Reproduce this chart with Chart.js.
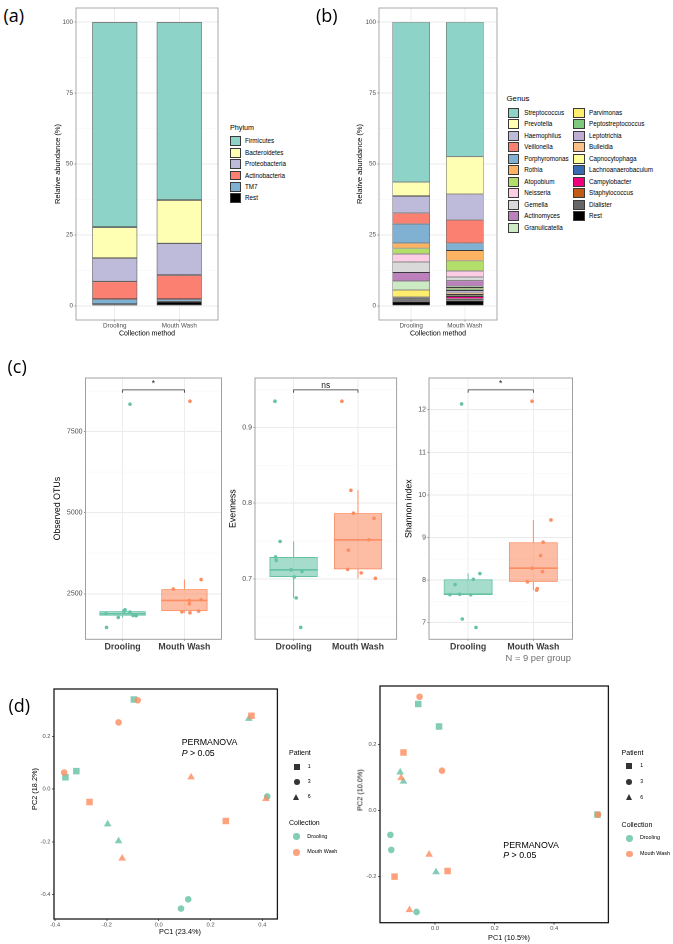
<!DOCTYPE html>
<html><head><meta charset="utf-8"><title>Oral microbiome by collection method</title>
<script src="https://cdn.jsdelivr.net/npm/chart.js@4.4.1/dist/chart.umd.min.js"></script>
<style>
html,body{margin:0;padding:0;background:#fff;}
body{position:relative;width:673px;height:944px;overflow:hidden;font-family:"Liberation Sans",Arial,Helvetica,sans-serif;}
.box{position:absolute;}
.txt{position:absolute;white-space:nowrap;line-height:1;}
.key{position:absolute;box-sizing:border-box;}
</style></head><body>
<script>
// ---------------- DATA ----------------
const collections = ['Drooling', 'Mouth Wash'];

// (a) phylum relative abundance (%)
const phyla = ['Firmicutes','Bacteroidetes','Proteobacteria','Actinobacteria','TM7','Rest'];
const phylumDrooling  = [72.3, 10.9, 8.2, 6.25, 1.8, 0.55];
const phylumMouthWash = [62.7, 15.3, 11.2, 8.45, 0.85, 1.5];

// (b) genus relative abundance (%)
const genera = ['Streptococcus','Prevotella','Haemophilus','Veillonella','Porphyromonas','Rothia','Atopobium','Neisseria','Gemella','Actinomyces','Granulicatella','Parvimonas','Peptostreptococcus','Leptotrichia','Bulleidia','Capnocytophaga','Lachnoanaerobaculum','Campylobacter','Staphylococcus','Dialister','Rest'];
const genusDrooling  = [56.4,4.9,6.0,3.8,6.8,1.8,2.0,2.8,3.75,3.05,3.1,2.55,0.25,0.2,0.1,0.1,0.2,0.1,0.2,0.4,1.5];
const genusMouthWash = [47.4,13.2,9.1,8.2,2.6,3.6,3.6,2.2,1.2,1.85,0.6,0.45,0.6,0.8,0.6,0.4,0.3,0.8,0.3,0.4,1.8];

// (c) alpha diversity, 9 samples per group (+ horizontal jitter)
const otuDrooling        = [1885,1771,1968,2008,1937,1833,1823,1464,8343];
const otuDroolingJitter  = [-0.27,-0.07,0.02,0.04,0.12,0.17,0.22,-0.26,0.12];
const otuMouthWash       = [2645,2940,2294,2192,2315,1946,1916,1968,8435];
const otuMouthWashJitter = [-0.18,0.27,0.08,0.08,0.27,-0.04,0.09,0.23,0.09];
const evenDrooling        = [0.7495,0.729,0.7245,0.712,0.710,0.7026,0.675,0.636,0.9346];
const evenDroolingJitter  = [-0.21,-0.28,-0.27,-0.04,0.13,0.01,0.04,0.11,-0.29];
const evenMouthWash       = [0.817,0.7868,0.780,0.7517,0.738,0.7126,0.708,0.7008,0.9346];
const evenMouthWashJitter = [-0.11,-0.07,0.25,0.17,-0.15,-0.16,0.05,0.27,-0.25];
const shanDrooling        = [8.155,8.02,7.897,7.66,7.67,7.656,7.087,6.89,12.136];
const shanDroolingJitter  = [0.18,0.08,-0.2,-0.28,-0.13,0.04,-0.09,0.12,-0.1];
const shanMouthWash       = [9.412,8.89,8.576,8.28,8.2,7.96,7.80,7.766,12.2];
const shanMouthWashJitter = [0.27,0.15,0.11,-0.02,0.14,-0.09,0.06,0.05,-0.02];
const signifLabels = ['*','ns','*'];

// (d) PCoA coordinates; sample i belongs to patient sampleSubjects[i]
const patients = ['1','3','6'];
const sampleSubjects = ['1','1','1','3','3','3','6','6','6'];
const pcoaLeftDroolingPC1   = [-0.096,-0.360,-0.318, 0.419,0.114,0.086, 0.348,-0.197,-0.155];
const pcoaLeftDroolingPC2   = [0.340,0.045,0.068, -0.028,-0.418,-0.453, 0.267,-0.133,-0.197];
const pcoaLeftMouthWashPC1  = [0.358,-0.267,0.259, -0.081,-0.155,-0.365, 0.125,0.414,-0.141];
const pcoaLeftMouthWashPC2  = [0.278,-0.049,-0.121, 0.337,0.253,0.063, 0.045,-0.037,-0.263];
const pcoaRightDroolingPC1  = [-0.0565,0.0133,0.545, -0.150,-0.147,-0.062, -0.117,-0.106,0.0033];
const pcoaRightDroolingPC2  = [0.323,0.255,-0.012, -0.0735,-0.119,-0.307, 0.116,0.0886,-0.186];
const pcoaRightMouthWashPC1 = [-0.106,0.042,-0.136, 0.0233,0.547,-0.052, -0.114,-0.020,-0.086];
const pcoaRightMouthWashPC2 = [0.176,-0.183,-0.200, 0.121,-0.012,0.345, 0.099,-0.133,-0.301];

// ---------------- STYLE ----------------
const phylumColors = ['#8DD3C7','#FFFFB3','#BEBADA','#FB8072','#80B1D3','#000000'];
const genusColors = ['#8DD3C7','#FFFFB3','#BEBADA','#FB8072','#80B1D3','#FDB462','#B3DE69','#FCCDE5','#D9D9D9','#BC80BD','#CCEBC5','#FFED6F','#7FC97F','#BEAED4','#FDC086','#FFFF99','#386CB0','#F0027F','#BF5B17','#666666','#000000'];
const groupColors = ['#66C2A5','#FC8D62'];
const groupFills = ['rgba(102,194,165,0.58)','rgba(252,141,98,0.58)'];
const groupPoint = ['rgba(102,194,165,0.82)','rgba(252,141,98,0.82)'];
const shapeStyles = ['rect','circle','triangle'];
const shapeRadius = [4.6,3.3,4.4];

Chart.defaults.font.family = '"Liberation Sans", Arial, Helvetica, sans-serif';
Chart.defaults.animation = false;

// ---------------- HELPERS ----------------
const frame = {
  id:'frame',
  afterDatasetsDraw(chart, args, o){
    const a = chart.chartArea, c = chart.ctx;
    c.save(); c.strokeStyle = o.color || '#999'; c.lineWidth = o.width || 1;
    c.strokeRect(a.left, a.top, a.right - a.left, a.bottom - a.top);
    c.restore();
  }
};
function makeBox(left, top, w, h){
  const d = document.createElement('div'); d.className = 'box';
  d.style.left = left+'px'; d.style.top = top+'px'; d.style.width = w+'px'; d.style.height = h+'px';
  const c = document.createElement('canvas'); d.appendChild(c); document.body.appendChild(d);
  return {canvas:c, left, top};
}
function txt(str, x, y, o = {}){
  const d = document.createElement('div'); d.className = 'txt'; d.innerHTML = str;
  d.style.fontSize = (o.size || 7)+'px'; d.style.color = o.color || '#000';
  if (o.weight) d.style.fontWeight = o.weight;
  if (o.family) d.style.fontFamily = o.family;
  d.style.left = x+'px'; d.style.top = y+'px';
  const ax = o.anchor === 'center' ? '-50%' : (o.anchor === 'right' ? '-100%' : '0');
  d.style.transform = 'translate('+ax+',-50%)' + (o.rotate ? ' rotate(-90deg)' : '');
  document.body.appendChild(d); return d;
}
function key(x, cy, w, h, css){
  const d = document.createElement('div'); d.className = 'key';
  d.style.left = x+'px'; d.style.top = (cy - h/2)+'px'; d.style.width = w+'px'; d.style.height = h+'px';
  d.style.cssText += css; document.body.appendChild(d); return d;
}
function stepTicks(min, max, step){
  const out = []; const s = Math.ceil(min/step - 1e-9);
  for (let k = s; k*step <= max + 1e-9; k++) out.push(+(k*step).toFixed(10));
  return out;
}
const isMult = (v, step) => Math.abs(v/step - Math.round(v/step)) < 1e-6;
function expand(arr, f = 0.05){ const mn = Math.min(...arr), mx = Math.max(...arr), r = mx - mn; return [mn - f*r, mx + f*r]; }
function quantile(s, p){ const h = (s.length-1)*p, lo = Math.floor(h), hi = Math.ceil(h); return s[lo] + (s[hi]-s[lo])*(h-lo); }
function boxStats(vals){
  const s = [...vals].sort((a,b)=>a-b);
  const q1 = quantile(s,.25), med = quantile(s,.5), q3 = quantile(s,.75), iqr = q3 - q1;
  const lo = s.find(v => v >= q1 - 1.5*iqr); const hi = [...s].reverse().find(v => v <= q3 + 1.5*iqr);
  return {q1, med, q3, lo, hi};
}
function bwY(o){
  return {
    type:'linear', position:'left', min:o.min, max:o.max, stacked:!!o.stacked,
    afterBuildTicks: s => { s.ticks = stepTicks(o.min, o.max, o.minor).map(v => ({value:v})); },
    afterFit: s => { s.width = o.width; },
    ticks:{autoSkip:false, font:{size:o.font}, color:'#4D4D4D', padding:o.tickPad,
      callback: v => isMult(v, o.major) ? o.fmt(v) : ''},
    grid:{color: c => (c.tick && isMult(c.tick.value, o.major)) ? '#EBEBEB' : '#F5F5F5',
      lineWidth: c => (c.tick && isMult(c.tick.value, o.major)) ? 0.9 : 0.5,
      tickColor: c => (c.tick && isMult(c.tick.value, o.major)) ? '#777' : 'rgba(0,0,0,0)',
      tickLength:1.5, tickWidth:0.8, drawTicks:true},
    border:{display:false},
    title:{display:true, text:o.title, font:{size:o.titleSize}, color:'#000', padding:{top:o.titlePad, bottom:0}}
  };
}
function catX(o){
  return {
    type:'linear', position:'bottom', min:0.4, max:collections.length + 0.6, offset:false, stacked:!!o.stacked,
    afterBuildTicks: s => { s.ticks = collections.map((_, i) => ({value:i+1})); },
    afterFit: s => { s.height = o.height; },
    ticks:{autoSkip:false, maxRotation:0, font:{size:o.font, weight:o.weight || 'normal'}, color:o.color || '#4D4D4D',
      padding:o.tickPad, callback: v => collections[Math.round(v)-1] || ''},
    grid:{color:'#EBEBEB', lineWidth:0.9, tickColor:'#777', tickLength:1.5, tickWidth:0.8, offset:false},
    border:{display:false},
    title: o.title ? {display:true, text:o.title, font:{size:o.titleSize}, color:'#000', padding:{top:0, bottom:o.titlePad}} : {display:false}
  };
}

// ---------------- (a) & (b) STACKED BARS ----------------
function stackedChart(box, names, dVals, mVals, colors, o){
  const datasets = [];
  for (let i = names.length - 1; i >= 0; i--) {
    datasets.push({label:names[i], data:[{x:1, y:dVals[i]}, {x:2, y:mVals[i]}],
      backgroundColor:colors[i], borderColor:'#3A3A3A', borderWidth:o.border, borderSkipped:false,
      barPercentage:0.7, categoryPercentage:1});
  }
  const tot = dVals.reduce((a,b)=>a+b,0);
  const [ymin, ymax] = expand([0, Math.max(tot, mVals.reduce((a,b)=>a+b,0))]);
  return new Chart(box.canvas, {
    type:'bar', data:{datasets},
    options:{responsive:true, maintainAspectRatio:false, animation:false, devicePixelRatio:2,
      layout:{padding:{top:8, right:o.padRight, left:0, bottom:0}},
      scales:{
        x: catX({height:22, font:6.3, tickPad:0.6, title:'Collection method', titleSize:7, titlePad:4.3, stacked:true}),
        y: bwY({min:ymin, max:ymax, major:25, minor:12.5, width:o.yWidth, font:6.3, tickPad:1.5,
          fmt:v => String(v), title:'Relative abundance (%)', titleSize:7.5, titlePad:o.titlePad, stacked:true})
      },
      plugins:{legend:{display:false}, tooltip:{enabled:false}, frame:{color:'#A8A8A8', width:1}}},
    plugins:[frame]
  });
}
stackedChart(makeBox(48, 0, 174, 342), phyla, phylumDrooling, phylumMouthWash, phylumColors, {padRight:4, yWidth:28, titlePad:5.2, border:0.7});
stackedChart(makeBox(350, 0, 152, 342), genera, genusDrooling, genusMouthWash, genusColors, {padRight:5, yWidth:29, titlePad:5.5, border:0.5});

// legends (a)
txt('Phylum', 230, 127.7, {size:7.2});
phyla.forEach((n, i) => {
  const cy = 141.3 + i*11.4;
  key(230, cy, 10.7, 9.8, 'background:'+phylumColors[i]+';border:0.8px solid #3A3A3A;');
  txt(n, 245, cy, {size:6.3});
});
// legends (b)
txt('Genus', 506.5, 99.3, {size:7.8});
genera.forEach((n, i) => {
  const col = i < 11 ? 0 : 1, row = i < 11 ? i : i - 11;
  const cy = 112.5 + row*11.5;
  const bx = col ? 573.3 : 507.5;
  key(bx, cy, 11.7, 10, 'background:'+genusColors[i]+';border:0.8px solid #3A3A3A;');
  txt(n, col ? 589 : 524.3, cy, {size:6.3});
});

// ---------------- (c) BOX PLOTS ----------------
function boxChart(box, groups, jitters, o){
  const all = groups.flat();
  const mn = Math.min(...all), mx = Math.max(...all);
  const yb = mx + 0.05*(mx - mn);
  const tip = 0.012*(yb - mn);
  const ymin = mn - 0.05*(yb - mn), ymax = yb + 0.05*(yb - mn);
  const hw = 0.375;
  const datasets = [];
  groups.forEach((vals, g) => {
    const x0 = g + 1, st = boxStats(vals);
    datasets.push({type:'scatter', data:vals.map((v, i) => ({x:x0 + jitters[g][i], y:v})),
      pointRadius:1.8, pointHoverRadius:1.8, backgroundColor:groupColors[g], borderWidth:0, order:0});
    datasets.push({type:'line', data:[{x:x0-hw, y:st.med}, {x:x0+hw, y:st.med}], borderColor:groupColors[g],
      borderWidth:1.6, pointRadius:0, fill:false, order:1});
    datasets.push({type:'line', data:[{x:x0, y:st.lo}, {x:x0, y:st.q1}, {x:x0, y:null}, {x:x0, y:st.q3}, {x:x0, y:st.hi}],
      borderColor:groupColors[g], borderWidth:1, pointRadius:0, fill:false, spanGaps:false, order:1});
    datasets.push({type:'bar', data:[{x:x0, y:[st.q1, st.q3]}], backgroundColor:groupFills[g], borderColor:groupColors[g],
      borderWidth:1, borderSkipped:false, grouped:false, barPercentage:0.75, categoryPercentage:1, order:2});
  });
  datasets.push({type:'line', data:[{x:1, y:yb - tip}, {x:1, y:yb}, {x:2, y:yb}, {x:2, y:yb - tip}],
    borderColor:'#333', borderWidth:0.8, pointRadius:0, fill:false, order:1});
  const ch = new Chart(box.canvas, {
    type:'bar', data:{datasets},
    options:{responsive:true, maintainAspectRatio:false, animation:false, devicePixelRatio:2,
      layout:{padding:{top:8, right:o.padRight, left:0, bottom:0}},
      scales:{
        x: catX({height:20.7, font:8.8, weight:'bold', color:'#3C3C3C', tickPad:0.9}),
        y: bwY({min:ymin, max:ymax, major:o.major, minor:o.minor, width:o.yWidth, font:7, tickPad:1.5,
          fmt:o.fmt, title:o.title, titleSize:8.8, titlePad:o.titlePad})
      },
      plugins:{legend:{display:false}, tooltip:{enabled:false}, frame:{color:'#A0A0A0', width:1}}},
    plugins:[frame]
  });
  const px = box.left + (ch.scales.x.getPixelForValue(1) + ch.scales.x.getPixelForValue(2))/2;
  const py = box.top + ch.scales.y.getPixelForValue(yb);
  if (o.sig === 'ns') txt('ns', px, py - 5, {size:8.5, anchor:'center', color:'#222'});
  else txt(o.sig, px, py - 6.5, {size:8.5, anchor:'center', color:'#222'});
  return ch;
}
boxChart(makeBox(48, 370, 176, 290), [otuDrooling, otuMouthWash], [otuDroolingJitter, otuMouthWashJitter],
  {padRight:2.5, yWidth:37.5, titlePad:4.4, major:2500, minor:1250, fmt:v => String(v), title:'Observed OTUs', sig:signifLabels[0]});
boxChart(makeBox(225, 370, 174, 290), [evenDrooling, evenMouthWash], [evenDroolingJitter, evenMouthWashJitter],
  {padRight:2.4, yWidth:30, titlePad:3, major:0.1, minor:0.05, fmt:v => v.toFixed(1), title:'Evenness', sig:signifLabels[1]});
boxChart(makeBox(400, 370, 175, 290), [shanDrooling, shanMouthWash], [shanDroolingJitter, shanMouthWashJitter],
  {padRight:2.5, yWidth:29, titlePad:3.7, major:1, minor:0.5, fmt:v => String(v), title:'Shannon index', sig:signifLabels[2]});
txt('N = 9 per group', 571, 657.7, {size:9.4, anchor:'right', color:'#707070'});

// ---------------- (d) PCoA ----------------
function pcoaAxis(axis, min, max, size, pad){
  return {
    type:'linear', position: axis === 'x' ? 'bottom' : 'left', min, max,
    afterBuildTicks: s => { s.ticks = stepTicks(min, max, 0.2).map(v => ({value:v})); },
    afterFit: s => { if (axis === 'x') s.height = size; else s.width = size; },
    ticks:{autoSkip:false, maxRotation:0, font:{size:5.8}, color:'#4D4D4D', padding:pad, callback: v => v.toFixed(1)},
    grid:{drawOnChartArea:false, drawTicks:true, tickLength:2, tickColor:'#333', tickWidth:0.8},
    border:{display:false}
  };
}
function pcoaChart(box, dX, dY, mX, mY, o){
  const [xmin, xmax] = expand([...dX, ...mX]);
  const [ymin, ymax] = expand([...dY, ...mY]);
  const datasets = [];
  [[dX, dY, 0], [mX, mY, 1]].forEach(([X, Y, g]) => {
    patients.forEach((p, pi) => {
      const pts = X.map((x, i) => ({x, y:Y[i], s:sampleSubjects[i]})).filter(q => q.s === p).map(q => ({x:q.x, y:q.y}));
      datasets.push({type:'scatter', label:collections[g]+' '+p, data:pts, pointStyle:shapeStyles[pi],
        pointRadius:shapeRadius[pi], pointHoverRadius:shapeRadius[pi], backgroundColor:groupPoint[g], borderWidth:0, order: 2 - g});
    });
  });
  return new Chart(box.canvas, {
    type:'scatter', data:{datasets},
    options:{responsive:true, maintainAspectRatio:false, animation:false, devicePixelRatio:2,
      layout:{padding:{top:o.padTop, right:o.padRight, left:0, bottom:0}},
      scales:{ x: pcoaAxis('x', xmin, xmax, o.xH, 0.4), y: pcoaAxis('y', ymin, ymax, o.yW, 1.5) },
      plugins:{legend:{display:false}, tooltip:{enabled:false}, frame:{color:'#1A1A1A', width:1.3}}},
    plugins:[frame]
  });
}
pcoaChart(makeBox(25, 680, 257, 264), pcoaLeftDroolingPC1, pcoaLeftDroolingPC2, pcoaLeftMouthWashPC1, pcoaLeftMouthWashPC2,
  {padTop:9, padRight:3.7, xH:25, yW:29});
pcoaChart(makeBox(340, 677, 273, 267), pcoaRightDroolingPC1, pcoaRightDroolingPC2, pcoaRightMouthWashPC1, pcoaRightMouthWashPC2,
  {padTop:9, padRight:3.7, xH:21.3, yW:40});

txt('PC1 (23.4%)', 180, 932.3, {size:7.3, anchor:'center'});
txt('PC2 (18.2%)', 35, 789, {size:7.3, anchor:'center', rotate:true});
txt('PC1 (10.5%)', 509, 937.7, {size:7.3, anchor:'center'});
txt('PC2 (10.0%)', 360, 790, {size:7.3, anchor:'center', rotate:true});
txt('PERMANOVA', 181.7, 742.3, {size:8.8});
txt('<i>P</i> &gt; 0.05', 181.7, 752.5, {size:8.8});
txt('PERMANOVA', 503.3, 845, {size:8.8});
txt('<i>P</i> &gt; 0.05', 503.3, 855.2, {size:8.8});

function pcoaLegend(x, yTitle, yItems, yColTitle, yCols){
  txt('Patient', x - 7.7, yTitle, {size:7});
  patients.forEach((p, i) => {
    const cy = yItems[i];
    if (i === 0) key(x - 3, cy, 6, 6, 'background:#333;');
    else if (i === 1) key(x - 3.2, cy, 6.4, 6.4, 'background:#333;border-radius:50%;');
    else key(x - 3.8, cy - 0.5, 0, 0, 'border-left:3.8px solid transparent;border-right:3.8px solid transparent;border-bottom:6.4px solid #333;height:0;top:'+(cy-3.7)+'px;');
    txt(p, x + 11, cy, {size:5.2});
  });
  txt('Collection', x - 7.7, yColTitle, {size:7});
  collections.forEach((c, g) => {
    key(x - 3.4, yCols[g], 6.8, 6.8, 'background:'+groupPoint[g]+';border-radius:50%;');
    txt(c, x + 10.6, yCols[g], {size:5.4});
  });
}
pcoaLegend(296.7, 752.3, [766.7, 781.7, 797.3], 822.3, [836.7, 852.3]);
pcoaLegend(629.3, 751.7, [766, 782, 797.7], 823.7, [838.3, 854]);

// panel letters
txt('(a)', 3.5, 15, {size:18, family:'"Open Sans", sans-serif'});
txt('(b)', 316, 15, {size:18, family:'"Open Sans", sans-serif'});
txt('(c)', 7.5, 366, {size:18, family:'"Open Sans", sans-serif'});
txt('(d)', 8.5, 704.5, {size:18, family:'"Open Sans", sans-serif'});
</script>
</body></html>
